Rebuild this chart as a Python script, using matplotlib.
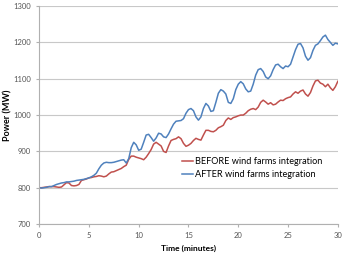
import matplotlib
matplotlib.use("Agg")
import matplotlib.pyplot as plt
import numpy as np

plt.rcParams['font.family'] = ['Lato', 'DejaVu Sans']

# time axis in minutes, 0.25 min steps
time_min = np.arange(0, 30.01, 0.25)

after_mw = [
    800, 799, 800, 801, 803, 803, 806, 809, 811, 813, 814, 816, 816, 817, 818, 820,
    821, 822, 823, 825, 827, 830, 834, 840, 852, 862, 868, 870, 869, 869, 870, 872,
    874, 876, 877, 868, 880, 910, 925, 918, 903, 906, 925, 945, 947, 938, 928, 937,
    950, 948, 940, 938, 948, 962, 975, 983, 984, 985, 990, 1005, 1015, 1018, 1012, 995,
    986, 995, 1018, 1032, 1025, 1010, 1012, 1035, 1060, 1070, 1066, 1058, 1035, 1032, 1045, 1070,
    1085, 1092, 1086, 1072, 1064, 1066, 1085, 1110, 1125, 1128, 1120, 1105, 1100, 1108, 1125, 1138,
    1140, 1133, 1128, 1135, 1133, 1140, 1160, 1180, 1195, 1197, 1185, 1162, 1151, 1158, 1178, 1192,
    1196, 1205, 1215, 1220, 1208, 1200, 1192, 1198, 1196,
]

before_mw = [
    800, 800, 801, 802, 803, 803, 803, 802, 801, 802, 808, 814, 813, 806, 805, 806,
    809, 820, 822, 824, 827, 828, 830, 831, 833, 832, 830, 832, 838, 843, 844, 847,
    850, 853, 858, 862, 878, 887, 887, 884, 882, 880, 877, 884, 894, 905, 920, 925,
    920, 915, 900, 897, 915, 930, 933, 935, 940, 935, 922, 914, 917, 922, 930, 936,
    933, 931, 945, 958, 958, 955, 954, 958, 965, 968, 972, 985, 992, 988, 993, 995,
    998, 1000, 1000, 1005, 1012, 1016, 1018, 1015, 1022, 1035, 1041, 1036, 1030, 1034, 1028, 1030,
    1036, 1041, 1040, 1045, 1048, 1050, 1058, 1064, 1060, 1066, 1069, 1058, 1052, 1062, 1080, 1094,
    1096, 1088, 1085, 1078, 1085, 1075, 1068, 1078, 1093,
]

x_ticks = [0, 5, 10, 15, 20, 25, 30]
y_ticks = [700, 800, 900, 1000, 1100, 1200, 1300]

fig = plt.figure(figsize=(3.43, 2.54), dpi=100)
ax = fig.add_axes([0.114, 0.118, 0.871, 0.858])

ax.plot(time_min, before_mw, color='#C0504D', lw=1.1, label='BEFORE wind farms integration')
ax.plot(time_min, after_mw, color='#4F81BD', lw=1.1, label='AFTER wind farms integration')

ax.set_xlim(0, 30)
ax.set_ylim(700, 1300)
ax.set_xticks(x_ticks)
ax.set_yticks(y_ticks)
ax.grid(axis='y', color='#c8c8c8', lw=0.8)
ax.set_axisbelow(True)
for s in ['top', 'right']:
    ax.spines[s].set_visible(False)
for s in ['left', 'bottom']:
    ax.spines[s].set_color('#b0b0b0')
    ax.spines[s].set_linewidth(0.8)
ax.tick_params(labelsize=5.5, colors='#b0b0b0', labelcolor='#555555', length=2.5, width=0.8)

ax.set_xlabel('Time (minutes)', fontsize=6, fontweight='bold')
ax.set_ylabel('Power (MW)', fontsize=6.5, fontweight='bold')
ax.xaxis.set_label_coords(0.5, -0.094)
ax.yaxis.set_label_coords(-0.088, 0.5)

ax.legend(loc='upper left', bbox_to_anchor=(0.465, 0.325), frameon=False, fontsize=6.6,
          handlelength=1.2, handletextpad=0.2, labelspacing=0.45, borderaxespad=0)

fig.savefig('out.png', dpi=100)
